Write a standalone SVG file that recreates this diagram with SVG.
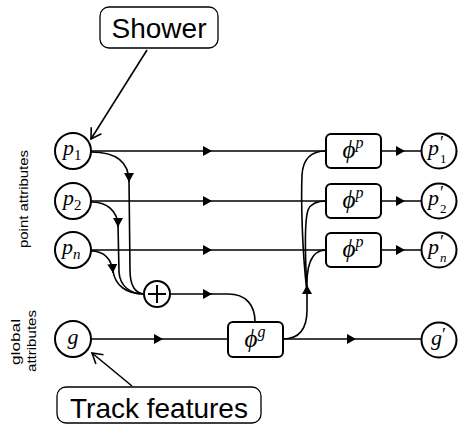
<svg xmlns="http://www.w3.org/2000/svg" width="458" height="425" viewBox="0 0 458 425">
<style>
.ln{fill:none;stroke:#000;stroke-width:1.6}
.nd{fill:#fff;stroke:#000;stroke-width:2}
.bx{fill:#fff;stroke:#000;stroke-width:1.3}
.m{font-family:"Liberation Serif","DejaVu Serif",serif;font-style:italic;fill:#000}
.s{font-family:"Liberation Sans",Arial,sans-serif;fill:#000}
.pr{font-size:18px;font-style:normal}
.sb{font-size:13px}
</style>
<defs>
<marker id="ah" markerUnits="userSpaceOnUse" markerWidth="10" markerHeight="10" refX="9" refY="5" orient="auto">
<path d="M0,0 L9,5 L0,10 z" fill="#000"/>
</marker>
<marker id="oa" markerUnits="userSpaceOnUse" markerWidth="14" markerHeight="14" refX="11" refY="7" orient="auto">
<path d="M1,1 L11,7 L1,13" fill="none" stroke="#000" stroke-width="1.6"/>
</marker>
</defs>
<rect width="458" height="425" fill="#fff"/>

<g id="connectors">
<path class="ln" d="M147,50 L91,139" marker-end="url(#oa)"/>
<path class="ln" d="M132,386 L92,353" marker-end="url(#oa)"/>
<path class="ln" d="M91,151 L212,151 L326,151" marker-mid="url(#ah)"/>
<path class="ln" d="M91,201 L212,201 L326,201" marker-mid="url(#ah)"/>
<path class="ln" d="M91,250 L212,250 L326,250" marker-mid="url(#ah)"/>
<path class="ln" d="M91,339 L163,339 L228,339" marker-mid="url(#ah)"/>
<path class="ln" d="M91,152 C113,152 129,160 129,182" marker-end="url(#ah)"/>
<path class="ln" d="M129,180 L130,270 C130,284 134,293 144,294"/>
<path class="ln" d="M91,202 C106,202 118,210 118,227" marker-end="url(#ah)"/>
<path class="ln" d="M118,225 L119,272 C120,286 130,294 144,294"/>
<path class="ln" d="M91,251 C104,251 112,259 113,273" marker-end="url(#ah)"/>
<path class="ln" d="M113,271 C115,285 126,294 144,294"/>
<path class="ln" d="M170,294 L212,294" marker-end="url(#ah)"/>
<path class="ln" d="M210,294 L228,294 C246,294 255,305 255,322"/>
<path class="ln" d="M283,339 L356,339 L421,339" marker-mid="url(#ah)"/>
<path class="ln" d="M283,339 C300,339 307,328 307,310 L307,285" marker-end="url(#ah)"/>
<path class="ln" d="M307,292 C302,250 301,200 302,175 C303,158 312,151 326,151"/>
<path class="ln" d="M307,292 C305,255 304,222 308,210 C311,203 317,201 326,201"/>
<path class="ln" d="M307,292 C306,268 310,250 326,250"/>
<path class="ln" d="M381,151 L405,151 L421,151" marker-mid="url(#ah)"/>
<path class="ln" d="M381,201 L405,201 L421,201" marker-mid="url(#ah)"/>
<path class="ln" d="M381,250 L405,250 L421,250" marker-mid="url(#ah)"/>
</g>

<g id="shower">
<rect class="bx" x="100" y="7" width="118" height="41" rx="9"/>
<text class="s" x="159" y="38" font-size="28" text-anchor="middle">Shower</text>
</g>
<g id="track">
<rect class="bx" x="57" y="387" width="204" height="36" rx="9"/>
<text class="s" x="159" y="418" font-size="28" text-anchor="middle">Track features</text>
</g>

<g id="label-point">
<text class="s" transform="translate(28,199) rotate(-90)" font-size="12.5" text-anchor="middle" textLength="98" lengthAdjust="spacingAndGlyphs">point attributes</text>
</g>
<g id="label-global">
<text class="s" transform="translate(19.5,342) rotate(-90)" font-size="12.5" text-anchor="middle" textLength="46" lengthAdjust="spacingAndGlyphs">global</text>
<text class="s" transform="translate(36,341) rotate(-90)" font-size="12.5" text-anchor="middle" textLength="62" lengthAdjust="spacingAndGlyphs">attributes</text>
</g>

<g id="p1">
<circle class="nd" cx="73" cy="151" r="18"/>
<text class="m" x="63" y="155" font-size="22">p<tspan font-size="15" font-style="normal" dy="5">1</tspan></text>
</g>
<g id="p2">
<circle class="nd" cx="73" cy="201" r="18"/>
<text class="m" x="63" y="205" font-size="22">p<tspan font-size="15" font-style="normal" dy="5">2</tspan></text>
</g>
<g id="pn">
<circle class="nd" cx="73" cy="250" r="18"/>
<text class="m" x="62" y="254" font-size="22">p<tspan font-size="15" dy="5">n</tspan></text>
</g>
<g id="g">
<circle class="nd" cx="73" cy="339" r="18"/>
<text class="m" x="73" y="344" font-size="22" text-anchor="middle">g</text>
</g>

<g id="sum">
<circle class="nd" cx="157" cy="294" r="13"/>
<path d="M148,294 H166 M157,285 V303" stroke="#000" stroke-width="2"/>
</g>

<g id="phig">
<rect class="nd" x="228" y="322" width="55" height="35" rx="5"/>
<text class="m" x="255" y="347" font-size="25" text-anchor="middle">ϕ<tspan font-size="16" dy="-10">g</tspan></text>
</g>
<g id="phip1">
<rect class="nd" x="326" y="134" width="55" height="34" rx="5"/>
<text class="m" x="353" y="158" font-size="25" text-anchor="middle">ϕ<tspan font-size="16" dy="-10">p</tspan></text>
</g>
<g id="phip2">
<rect class="nd" x="326" y="184" width="55" height="34" rx="5"/>
<text class="m" x="353" y="208" font-size="25" text-anchor="middle">ϕ<tspan font-size="16" dy="-10">p</tspan></text>
</g>
<g id="phipn">
<rect class="nd" x="326" y="233" width="55" height="34" rx="5"/>
<text class="m" x="353" y="257" font-size="25" text-anchor="middle">ϕ<tspan font-size="16" dy="-10">p</tspan></text>
</g>

<g id="p1out">
<circle class="nd" cx="439" cy="151" r="17.5"/>
<text class="m" x="428" y="155" font-size="22">p<tspan class="pr" x="440" y="149">′</tspan><tspan class="sb" font-style="normal" x="440" y="163">1</tspan></text>
</g>
<g id="p2out">
<circle class="nd" cx="439" cy="201" r="17.5"/>
<text class="m" x="428" y="205" font-size="22">p<tspan class="pr" x="440" y="199">′</tspan><tspan class="sb" font-style="normal" x="440" y="213">2</tspan></text>
</g>
<g id="pnout">
<circle class="nd" cx="439" cy="250" r="17.5"/>
<text class="m" x="428" y="254" font-size="22">p<tspan class="pr" x="440" y="248">′</tspan><tspan class="sb" x="440" y="262">n</tspan></text>
</g>
<g id="gout">
<circle class="nd" cx="439" cy="340" r="17.5"/>
<text class="m" x="431" y="345" font-size="22">g<tspan class="pr" x="442" y="341">′</tspan></text>
</g>
</svg>
